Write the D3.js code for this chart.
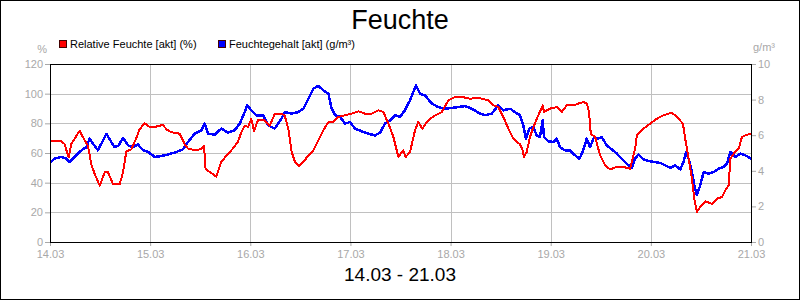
<!DOCTYPE html>
<html>
<head>
<meta charset="utf-8">
<script src="https://cdn.jsdelivr.net/npm/d3@7"></script>
<style>
	body { margin: 0; background: #fff; }
	svg { display: block; font-family: "Liberation Sans", Arial, sans-serif; }
	.axis text { fill: #a8a8a8; font-size: 11px; }
	.axis line { stroke: #a8a8a8; }
	.axis .domain { display: none; }
	.series { fill: none; shape-rendering: crispEdges; stroke-linejoin: round; }
</style>
</head>
<body>
<script>
// day offsets from 14.03 00:00
const dayLabels = ["14.03", "15.03", "16.03", "17.03", "18.03", "19.03", "20.03", "21.03"];
const leftTicks = [0, 20, 40, 60, 80, 100, 120];
const rightTicks = [0, 2, 4, 6, 8, 10];

const seriesNames = ["Relative Feuchte [akt] (%)", "Feuchtegehalt [akt] (g/m³)"];

const relDays = [0.007, 0.113, 0.146, 0.186, 0.213, 0.296, 0.346, 0.379, 0.413, 0.446, 0.496, 0.546, 0.579, 0.629, 0.696, 0.729, 0.762, 0.812, 0.862, 0.895, 0.945, 0.995, 1.045, 1.128, 1.162, 1.212, 1.295, 1.345, 1.378, 1.444, 1.511, 1.538, 1.554, 1.611, 1.661, 1.711, 1.778, 1.827, 1.877, 1.911, 1.944, 1.977, 2.010, 2.037, 2.077, 2.144, 2.194, 2.243, 2.310, 2.343, 2.380, 2.413, 2.447, 2.486, 2.530, 2.580, 2.630, 2.680, 2.730, 2.780, 2.830, 2.880, 2.946, 3.013, 3.080, 3.146, 3.213, 3.279, 3.329, 3.379, 3.429, 3.479, 3.528, 3.552, 3.595, 3.645, 3.678, 3.718, 3.762, 3.828, 3.912, 3.978, 4.045, 4.111, 4.195, 4.278, 4.378, 4.427, 4.477, 4.527, 4.577, 4.627, 4.660, 4.693, 4.720, 4.733, 4.760, 4.793, 4.827, 4.876, 4.920, 4.933, 4.993, 5.060, 5.110, 5.160, 5.226, 5.276, 5.326, 5.360, 5.383, 5.400, 5.443, 5.493, 5.543, 5.593, 5.660, 5.727, 5.793, 5.843, 5.860, 5.926, 5.993, 6.060, 6.126, 6.210, 6.260, 6.320, 6.343, 6.377, 6.410, 6.434, 6.460, 6.493, 6.543, 6.610, 6.660, 6.710, 6.754, 6.777, 6.794, 6.827, 6.877, 6.910, 6.944, 7.0];
const relValues = [68, 68, 66, 57, 66, 75, 68.5, 65, 52, 46, 38, 47, 47, 39, 39, 47, 61, 62.5, 70, 76, 80, 77.5, 77.5, 79, 76, 74, 73, 66, 63, 62, 62.5, 65, 49, 46.5, 44, 54, 59.5, 63, 67.5, 74, 78.5, 77.5, 83, 75, 82, 82, 78.5, 86, 86.5, 85.5, 76.4, 60.7, 53.9, 51.2, 53.9, 58.4, 61.8, 68.5, 75.3, 80.9, 80.9, 84.3, 85.4, 86.5, 88.1, 86.5, 86.5, 88.8, 87.6, 79.8, 70.8, 57.3, 61.8, 57.3, 60.7, 75.3, 80.9, 76.4, 80.9, 84.7, 87.6, 95.5, 97.8, 97.8, 96.6, 97.1, 95.5, 92.1, 91, 84.3, 76.4, 69.7, 67.4, 66, 61.8, 57.3, 60.7, 70.8, 77.5, 85.4, 92.1, 87.6, 89.9, 91, 87.6, 92.1, 92.1, 93.3, 94.4, 93.3, 87.6, 73, 70.8, 58.4, 51.7, 49, 50.6, 50.6, 49.4, 62.9, 71.9, 76.4, 79.8, 83.1, 85.4, 87.2, 84.3, 79.8, 69.7, 56.2, 42.7, 29.2, 20.2, 23.6, 27.4, 25.8, 29.2, 30.3, 36, 38.2, 56.2, 59.6, 62.9, 70.8, 71.9, 73];

const absDays = [0.007, 0.047, 0.113, 0.163, 0.196, 0.246, 0.296, 0.330, 0.363, 0.396, 0.429, 0.479, 0.513, 0.563, 0.612, 0.646, 0.686, 0.729, 0.779, 0.829, 0.879, 0.929, 0.979, 1.045, 1.112, 1.178, 1.262, 1.328, 1.378, 1.444, 1.511, 1.544, 1.578, 1.644, 1.711, 1.778, 1.844, 1.894, 1.944, 1.967, 2.010, 2.060, 2.127, 2.177, 2.243, 2.310, 2.347, 2.413, 2.480, 2.530, 2.580, 2.630, 2.680, 2.730, 2.780, 2.813, 2.846, 2.896, 2.946, 2.996, 3.046, 3.113, 3.179, 3.246, 3.296, 3.346, 3.396, 3.446, 3.495, 3.545, 3.595, 3.655, 3.695, 3.745, 3.812, 3.878, 3.945, 4.012, 4.078, 4.145, 4.211, 4.295, 4.345, 4.411, 4.477, 4.527, 4.594, 4.643, 4.693, 4.726, 4.753, 4.786, 4.827, 4.860, 4.893, 4.920, 4.933, 4.976, 5.026, 5.060, 5.093, 5.143, 5.193, 5.243, 5.286, 5.319, 5.360, 5.393, 5.433, 5.476, 5.509, 5.559, 5.609, 5.660, 5.709, 5.759, 5.809, 5.843, 5.876, 5.926, 5.993, 6.043, 6.093, 6.143, 6.193, 6.243, 6.293, 6.326, 6.353, 6.377, 6.410, 6.434, 6.460, 6.493, 6.527, 6.577, 6.627, 6.677, 6.727, 6.760, 6.794, 6.844, 6.894, 6.944, 7.0];
const absValues = [4.49, 4.68, 4.78, 4.68, 4.49, 4.78, 5.06, 5.21, 5.33, 5.81, 5.53, 5.15, 5.53, 6.08, 5.62, 5.33, 5.43, 5.84, 5.43, 5.33, 5.47, 5.15, 5.06, 4.78, 4.83, 4.91, 5.06, 5.21, 5.62, 6.08, 6.28, 6.65, 6.08, 6.03, 6.37, 6.14, 6.28, 6.65, 7.3, 7.68, 7.4, 7.12, 7.12, 6.56, 6.37, 6.93, 7.3, 7.21, 7.3, 7.49, 8.05, 8.62, 8.77, 8.52, 8.33, 7.49, 7.12, 7.03, 6.65, 6.74, 6.37, 6.22, 6.08, 5.99, 6.14, 6.65, 6.83, 7.12, 7.03, 7.4, 7.96, 8.8, 8.33, 8.24, 7.78, 7.58, 7.49, 7.53, 7.58, 7.64, 7.49, 7.21, 7.12, 7.21, 7.68, 7.4, 7.49, 7.3, 7.12, 6.56, 5.81, 6.37, 6.46, 5.99, 5.9, 6.83, 5.9, 5.66, 5.62, 5.81, 5.33, 5.15, 5.15, 4.87, 4.68, 5.06, 5.81, 5.33, 5.9, 5.81, 5.9, 5.43, 5.21, 4.97, 4.68, 4.4, 4.16, 4.68, 4.91, 4.64, 4.53, 4.49, 4.44, 4.31, 4.16, 4.31, 4.08, 4.49, 5.06, 4.68, 3.93, 3.18, 2.63, 3.18, 3.93, 3.84, 3.93, 4.12, 4.22, 4.4, 5.06, 4.78, 4.97, 4.87, 4.68];

const width = 800, height = 300;
const margin = {top: 64, right: 49, bottom: 58, left: 50};
const innerW = width - margin.left - margin.right;
const innerH = height - margin.top - margin.bottom;

const x = d3.scaleLinear().domain([0, 7]).range([0, innerW]);
const yLeft = d3.scaleLinear().domain([0, 120]).range([innerH, 0]);
const yRight = d3.scaleLinear().domain([0, 10]).range([innerH, 0]);

const svg = d3.select("body").append("svg")
	.attr("width", width)
	.attr("height", height);

svg.append("rect")
	.attr("x", 0.5).attr("y", 0.5)
	.attr("width", width - 1).attr("height", height - 1)
	.attr("fill", "#fff").attr("stroke", "#000");

svg.append("text")
	.attr("x", width / 2).attr("y", 29)
	.attr("text-anchor", "middle")
	.attr("font-size", 27)
	.text("Feuchte");

svg.append("text")
	.attr("x", width / 2).attr("y", 281)
	.attr("text-anchor", "middle")
	.attr("font-size", 19)
	.text(`${dayLabels[0]} - ${dayLabels[dayLabels.length - 1]}`);

// legend
const legend = svg.append("g").attr("font-size", 11);
[[59, "#ff0000"], [218, "#0000ff"]].forEach(([lx, col], i) => {
	legend.append("rect")
		.attr("x", lx + 0.5).attr("y", 40.5)
		.attr("width", 7).attr("height", 7)
		.attr("fill", col).attr("stroke", "#400");
	legend.append("text")
		.attr("x", lx + 11).attr("y", 48)
		.text(seriesNames[i]);
});

svg.append("text")
	.attr("x", 47).attr("y", 53)
	.attr("text-anchor", "end")
	.attr("font-size", 11).attr("fill", "#a8a8a8")
	.text("%");

svg.append("text")
	.attr("x", 753).attr("y", 51)
	.attr("font-size", 11).attr("fill", "#a8a8a8")
	.text("g/m³");

const g = svg.append("g")
	.attr("transform", `translate(${margin.left}, ${margin.top})`);

// grid
g.append("g")
	.selectAll("line")
	.data(leftTicks.slice(1, -1))
	.join("line")
		.attr("x1", 0).attr("x2", innerW)
		.attr("y1", d => Math.round(yLeft(d)) + 0.5)
		.attr("y2", d => Math.round(yLeft(d)) + 0.5)
		.attr("stroke", "#c0c0c0");

g.append("g")
	.selectAll("line")
	.data(d3.range(1, 7))
	.join("line")
		.attr("x1", d => Math.round(x(d)) + 0.5)
		.attr("x2", d => Math.round(x(d)) + 0.5)
		.attr("y1", 0).attr("y2", innerH)
		.attr("stroke", "#c0c0c0");

// axes
g.append("g")
	.attr("class", "axis")
	.call(d3.axisLeft(yLeft).tickValues(leftTicks).tickSize(5).tickPadding(2));

g.append("g")
	.attr("class", "axis")
	.attr("transform", `translate(${innerW}, 0)`)
	.call(d3.axisRight(yRight).tickValues(rightTicks).tickSize(5).tickPadding(2));

g.append("g")
	.attr("class", "axis")
	.attr("transform", `translate(0, ${innerH})`)
	.call(d3.axisBottom(x).tickValues(d3.range(0, 8)).tickFormat(d => dayLabels[d]).tickSize(4).tickPadding(4));

// series
const relLine = d3.line()
	.x((d, i) => x(relDays[i]))
	.y(d => yLeft(d));

const absLine = d3.line()
	.x((d, i) => x(absDays[i]))
	.y(d => yRight(d));

g.append("path")
	.datum(absValues)
	.attr("class", "series")
	.attr("d", absLine)
	.attr("stroke", "#0000ff")
	.attr("stroke-width", 2.5);

g.append("path")
	.datum(relValues)
	.attr("class", "series")
	.attr("d", relLine)
	.attr("stroke", "#ff0000")
	.attr("stroke-width", 2);

// frame
g.append("rect")
	.attr("x", 0.5).attr("y", 0.5)
	.attr("width", innerW).attr("height", innerH)
	.attr("fill", "none")
	.attr("stroke", "#000");
</script>
</body>
</html>
